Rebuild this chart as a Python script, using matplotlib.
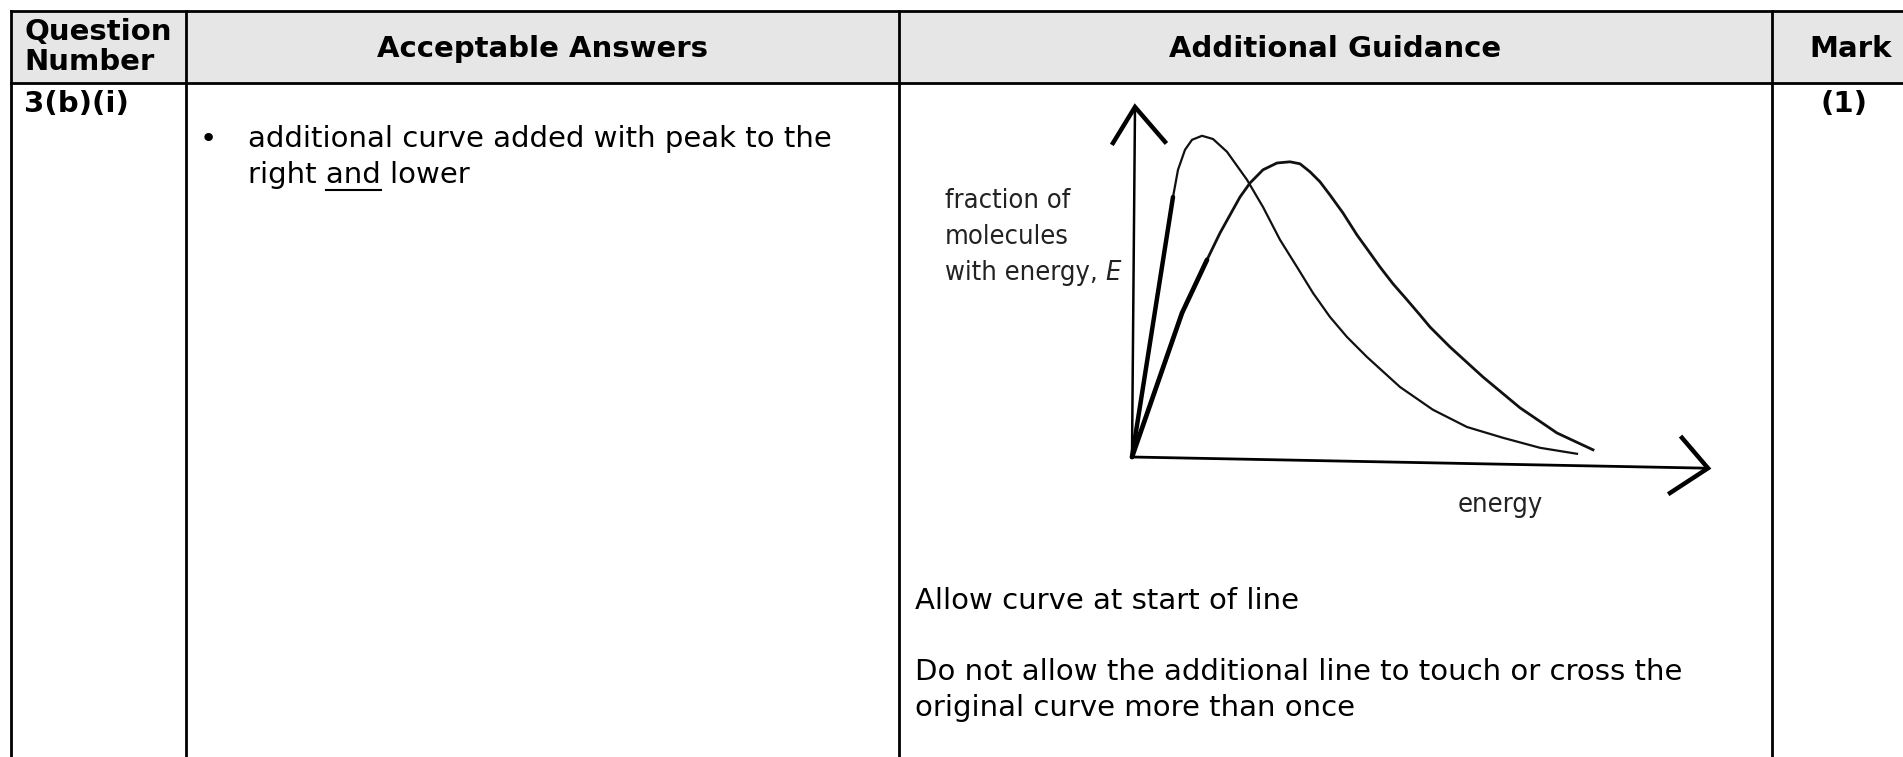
import matplotlib
matplotlib.use("Agg")
import matplotlib.pyplot as plt
from matplotlib.patches import Rectangle

W, H = 1903, 757

# table content
headers = ["Question\nNumber", "Acceptable Answers", "Additional Guidance", "Mark"]
question = "3(b)(i)"
answer_lines = ["additional curve added with peak to the", "right and lower"]
underlined_word = "and"
guidance_lines = ["Allow curve at start of line",
                  "Do not allow the additional line to touch or cross the",
                  "original curve more than once"]
mark = "(1)"

# sketch: original curve (thin) and added curve (peak right and lower)
orig_e = [0, 0.82, 0.92, 1.06, 1.20, 1.40, 1.62, 1.90, 2.30, 2.62, 2.96, 3.30,
          3.62, 3.96, 4.30, 4.70, 5.36, 6.02, 6.70, 7.42, 8.16, 8.90]
orig_f = [0, 6.50, 7.18, 7.68, 7.93, 8.03, 7.95, 7.63, 6.93, 6.25, 5.43, 4.75,
          4.10, 3.50, 3.00, 2.50, 1.75, 1.18, 0.75, 0.48, 0.23, 0.08]
new_e = [0, 1.00, 1.50, 1.76, 1.96, 2.16, 2.36, 2.62, 2.90, 3.16, 3.36, 3.56,
         3.76, 3.96, 4.22, 4.50, 4.76, 4.96, 5.22, 5.50, 5.76, 5.96, 6.36, 7.02,
         7.76, 8.50, 9.22]
new_f = [0, 3.60, 4.93, 5.60, 6.05, 6.50, 6.85, 7.18, 7.35, 7.38, 7.33, 7.13,
         6.88, 6.55, 6.10, 5.55, 5.10, 4.75, 4.33, 3.93, 3.55, 3.25, 2.75, 2.00,
         1.23, 0.60, 0.18]
# hand-drawn axes with arrow heads
yaxis_e = [0, 0.06]
yaxis_f = [0, 8.75]
yarrow_e = [-0.38, 0.06, 0.66]
yarrow_f = [7.85, 8.75, 7.88]
xaxis_e = [0, 11.52]
xaxis_f = [0, -0.28]
xarrow_e = [11.0, 11.52, 10.76]
xarrow_f = [0.48, -0.28, -0.9]

col_x = [11, 186, 899, 1772, 1930]
top_y, head_y = 11, 83

fig = plt.figure(figsize=(W / 100, H / 100), dpi=100)
ax = fig.add_axes([0, 0, 1, 1])
ax.set_xlim(0, W)
ax.set_ylim(H, 0)
ax.axis("off")

ax.add_patch(Rectangle((col_x[0], top_y), col_x[-1] - col_x[0], head_y - top_y,
                       facecolor="#e6e6e6", edgecolor="none"))
ax.plot([col_x[0], W], [top_y, top_y], color="black", lw=2)
ax.plot([col_x[0], W], [head_y, head_y], color="black", lw=2)
for x in col_x[:-1]:
    ax.plot([x, x], [top_y, H], color="black", lw=2)

hfont = dict(family="DejaVu Sans", fontweight="bold", fontsize=21)
bfont = dict(family="DejaVu Sans", fontsize=21)

ax.text(24, 47, headers[0], ha="left", va="center", linespacing=1.12, **hfont)
for i in range(1, 4):
    ax.text((col_x[i] + col_x[i + 1]) / 2, 49, headers[i], ha="center", va="center", **hfont)

ax.text(24, 104, question, ha="left", va="center", **hfont)
ax.text(1844, 104, mark, ha="center", va="center", **hfont)

ax.text(208, 139, "\u2022", ha="center", va="center", **bfont)
ax.text(248, 139, answer_lines[0], ha="left", va="center", **bfont)
ax.text(248, 175, answer_lines[1], ha="left", va="center", **bfont)

gy = [601, 672, 708]
for y, s in zip(gy, guidance_lines):
    ax.text(915, y, s, ha="left", va="center", **bfont)

# graph labels
lfont = dict(family="DejaVu Sans", stretch="condensed", fontsize=19.5, color="#222222")
ax.text(945, 201, "fraction of", ha="left", va="center", **lfont)
ax.text(945, 237, "molecules", ha="left", va="center", **lfont)
t_we = ax.text(945, 273, "with energy,", ha="left", va="center", **lfont)
ax.text(1500, 505, "energy", ha="center", va="center", **lfont)

# underline "and" and place the italic E, using measured text widths
fig.canvas.draw()
r = fig.canvas.get_renderer()
pre = answer_lines[1].split(underlined_word)[0]
t_pre = ax.text(248, 175, pre.replace(" ", "\u00a0"), ha="left", va="center", **bfont)
t_w = ax.text(0, 0, underlined_word, ha="left", va="center", **bfont)
bb_pre = t_pre.get_window_extent(r)
bb_w = t_w.get_window_extent(r)
t_pre.remove()
t_w.remove()
x0 = 248 + bb_pre.width
ax.plot([x0, x0 + bb_w.width], [190, 190], color="black", lw=1.5)

bb_we = t_we.get_window_extent(r)
ax.text(945 + bb_we.width + 8, 273, "E", ha="left", va="center", style="italic", **lfont)

# sketch axes: 50 px per energy unit, 40 px per fraction unit, origin at (1132, 457)
gx0, gx1 = 1082, 1732
gy0, gy1 = 517, 77
g = fig.add_axes([gx0 / W, (H - gy0) / H, (gx1 - gx0) / W, (gy0 - gy1) / H])
g.set_xlim(-1, 12)
g.set_ylim(-1.5, 9.5)
g.axis("off")

g.plot(yaxis_e, yaxis_f, color="black", lw=1.8, clip_on=False)
g.plot(yarrow_e, yarrow_f, color="black", lw=3.2, clip_on=False, solid_joinstyle="miter")
g.plot(xaxis_e, xaxis_f, color="black", lw=2.0, clip_on=False)
g.plot(xarrow_e, xarrow_f, color="black", lw=3.2, clip_on=False, solid_joinstyle="miter")

g.plot(orig_e, orig_f, color="#111111", lw=1.6, solid_joinstyle="round", clip_on=False)
g.plot(orig_e[:2], orig_f[:2], color="black", lw=3.2, solid_capstyle="round")
g.plot(new_e, new_f, color="#111111", lw=2.0, solid_joinstyle="round", clip_on=False)
g.plot(new_e[:3], new_f[:3], color="black", lw=3.4, solid_capstyle="round",
       solid_joinstyle="round")

fig.savefig("out.png", dpi=100)
